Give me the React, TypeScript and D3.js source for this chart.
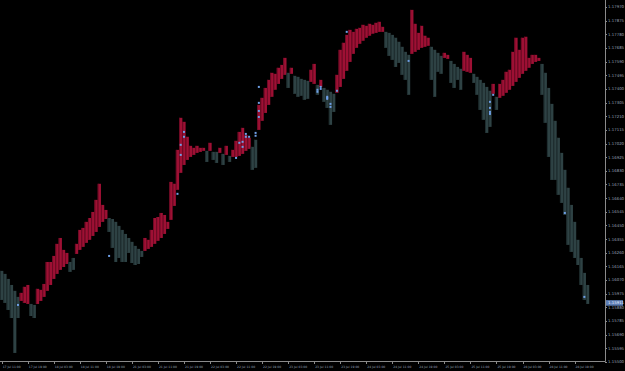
import React from "react";
import * as d3 from "d3";

// Smoothed average (base of each histogram bar), one value per hourly bar
const maValues = [
  1.16134, 1.16113, 1.16078, 1.16036, 1.15995, 1.15953, 1.15925, 1.15911, 1.15904, 1.15904,
  1.15897, 1.15904, 1.15925, 1.15953, 1.15995, 1.16036, 1.16078, 1.16113, 1.16141, 1.16161,
  1.16182, 1.16196, 1.16224, 1.16252, 1.16280, 1.16301, 1.16329, 1.16350, 1.16377, 1.16405,
  1.16440, 1.16475, 1.16495, 1.16502, 1.16495, 1.16475, 1.16447, 1.16419, 1.16391, 1.16363,
  1.16336, 1.16308, 1.16287, 1.16273, 1.16273, 1.16287, 1.16301, 1.16322, 1.16343, 1.16363,
  1.16391, 1.16426, 1.16489, 1.16586, 1.16698, 1.16816, 1.16871, 1.16906, 1.16927, 1.16941,
  1.16955, 1.16962, 1.16969, 1.16969, 1.16969, 1.16962, 1.16962, 1.16955, 1.16948, 1.16941,
  1.16934, 1.16927, 1.16927, 1.16934, 1.16948, 1.16969, 1.16983, 1.16997, 1.17046, 1.17115,
  1.17178, 1.17233, 1.17289, 1.17345, 1.17394, 1.17435, 1.17470, 1.17498, 1.17512, 1.17505,
  1.17491, 1.17484, 1.17470, 1.17463, 1.17456, 1.17449, 1.17435, 1.17428, 1.17414, 1.17407,
  1.17394, 1.17380, 1.17366, 1.17373, 1.17414, 1.17470, 1.17526, 1.17588, 1.17644, 1.17686,
  1.17714, 1.17735, 1.17756, 1.17770, 1.17784, 1.17790, 1.17797, 1.17797, 1.17797, 1.17790,
  1.17776, 1.17756, 1.17728, 1.17693, 1.17658, 1.17637, 1.17644, 1.17658, 1.17672, 1.17686,
  1.17693, 1.17700, 1.17693, 1.17672, 1.17651, 1.17630, 1.17616, 1.17609, 1.17595, 1.17574,
  1.17553, 1.17540, 1.17526, 1.17519, 1.17512, 1.17505, 1.17484, 1.17463, 1.17442, 1.17414,
  1.17387, 1.17366, 1.17345, 1.17338, 1.17352, 1.17373, 1.17394, 1.17421, 1.17449, 1.17477,
  1.17505, 1.17526, 1.17547, 1.17574, 1.17588, 1.17595, 1.17574, 1.17512, 1.17407, 1.17296,
  1.17178, 1.17060, 1.16955, 1.16837, 1.16712, 1.16593, 1.16475, 1.16350, 1.16224, 1.16120,
  1.16036,
];

// Price extreme reached by each bar (top of red bars / bottom of grey bars)
const tipValues = [
  1.15932, 1.15911, 1.15862, 1.15806, 1.15563, 1.15806, 1.15981, 1.16023, 1.16036, 1.15820,
  1.15806, 1.16009, 1.16002, 1.16043, 1.16196, 1.16196, 1.16238, 1.16322, 1.16363, 1.16280,
  1.16259, 1.16127, 1.16141, 1.16322, 1.16419, 1.16433, 1.16475, 1.16502, 1.16544, 1.16628,
  1.16740, 1.16593, 1.16558, 1.16405, 1.16294, 1.16196, 1.16224, 1.16196, 1.16196, 1.16259,
  1.16189, 1.16175, 1.16182, 1.16231, 1.16363, 1.16350, 1.16419, 1.16502, 1.16509, 1.16537,
  1.16523, 1.16475, 1.16753, 1.16740, 1.16976, 1.17199, 1.17171, 1.17067, 1.17004, 1.16990,
  1.17004, 1.16990, 1.16990, 1.16892, 1.17025, 1.16906, 1.16885, 1.16990, 1.16871, 1.17004,
  1.16892, 1.16976, 1.17039, 1.17101, 1.17129, 1.17080, 1.17060, 1.16837, 1.16851, 1.17289,
  1.17338, 1.17407, 1.17463, 1.17512, 1.17505, 1.17547, 1.17567, 1.17616, 1.17407, 1.17547,
  1.17366, 1.17345, 1.17352, 1.17324, 1.17331, 1.17533, 1.17574, 1.17359, 1.17463, 1.17310,
  1.17268, 1.17150, 1.17240, 1.17498, 1.17672, 1.17721, 1.17776, 1.17811, 1.17797, 1.17818,
  1.17825, 1.17846, 1.17839, 1.17853, 1.17846, 1.17860, 1.17867, 1.17832, 1.17686, 1.17630,
  1.17602, 1.17553, 1.17581, 1.17498, 1.17463, 1.17359, 1.17950, 1.17853, 1.17790, 1.17839,
  1.17770, 1.17756, 1.17463, 1.17345, 1.17519, 1.17505, 1.17651, 1.17637, 1.17442, 1.17407,
  1.17463, 1.17394, 1.17658, 1.17637, 1.17616, 1.17442, 1.17359, 1.17254, 1.17185, 1.17094,
  1.17136, 1.17435, 1.17254, 1.17435, 1.17463, 1.17519, 1.17533, 1.17658, 1.17756, 1.17672,
  1.17756, 1.17763, 1.17616, 1.17637, 1.17637, 1.17616, 1.17359, 1.17164, 1.16927, 1.16767,
  1.16767, 1.16663, 1.16607, 1.16523, 1.16315, 1.16266, 1.16224, 1.16175, 1.16036, 1.15932,
  1.15904,
];

// Signal markers (bar index, price)
const markerBars = [5, 33, 54, 55, 55, 56, 56, 72, 73, 74, 74, 75, 75, 76, 78, 78, 79, 79, 79, 79,
  106, 97, 97, 98, 98, 100, 100, 100, 101, 101, 103, 125, 151, 150, 150, 150, 150, 173, 179];
const markerPrices = [1.15897, 1.16238, 1.16670, 1.17011, 1.16941, 1.17101, 1.17067, 1.16920, 1.17025,
  1.17032, 1.16997, 1.17087, 1.17067, 1.17067, 1.17074, 1.17094, 1.17205, 1.17247, 1.17303, 1.17414,
  1.17797, 1.17394, 1.17380, 1.17414, 1.17400, 1.17331, 1.17345, 1.17338, 1.17296, 1.17275, 1.17387,
  1.17595, 1.17359, 1.17310, 1.17268, 1.17240, 1.17226, 1.16537, 1.15953];

const timeLabels = [
  "17 Jul 11:00", "17 Jul 19:00", "18 Jul 03:00", "18 Jul 11:00", "18 Jul 19:00", "21 Jul 03:00",
  "21 Jul 11:00", "21 Jul 19:00", "22 Jul 03:00", "22 Jul 11:00", "22 Jul 19:00", "23 Jul 03:00",
  "23 Jul 11:00", "23 Jul 19:00", "24 Jul 03:00", "24 Jul 11:00", "24 Jul 19:00", "25 Jul 03:00",
  "25 Jul 11:00", "25 Jul 19:00", "28 Jul 03:00", "28 Jul 11:00", "28 Jul 19:00",
];
const barsPerLabel = 8;

const priceTickBase = 1.155;
const priceTickStep = 0.00095;
const priceTickCount = 27;
const currentPrice = 1.15911;

export default function App() {
  const W = 625;
  const H = 371;
  const axisX = 605;
  const axisY = 361;
  const n = maValues.length;
  const x = d3.scaleLinear().domain([0, n - 1]).range([1.7, 587.6]);
  const y = d3
    .scaleLinear()
    .domain([priceTickBase, priceTickBase + priceTickStep * (priceTickCount - 1)])
    .range([362, 7]);
  const priceTicks = d3.range(priceTickCount).map((k) => priceTickBase + k * priceTickStep);
  const step = x(1) - x(0);
  const red = "#9e1034";
  const redDark = "#6a0a23";
  const grey = "#2e4244";
  const greyDark = "#1d2b2d";
  const labelColor = "#9aa4b8";
  const axisColor = "#8a8a8a";

  return (
    <div style={{ position: "fixed", left: 0, top: 0, width: W, height: H, background: "#000" }}>
      <svg width={W} height={H} style={{ display: "block", fontFamily: "'DejaVu Sans', sans-serif" }}>
        <rect x={0} y={0} width={W} height={H} fill="#000" />
        <g>
          {maValues.map((m, i) => {
            const t = tipValues[i];
            const y0 = y(Math.max(m, t));
            const y1 = y(Math.min(m, t));
            const up = t >= m;
            const h = Math.max(0.5, y1 - y0);
            return (
              <g key={i}>
                <rect x={x(i) - step / 2} y={y0} width={step} height={h} fill={up ? red : grey} />
                <rect x={x(i) - step / 2} y={y0} width={0.9} height={h} fill={up ? redDark : greyDark} />
              </g>
            );
          })}
        </g>
        <g>
          {markerBars.map((b, i) => (
            <rect key={i} x={x(b) - 1} y={y(markerPrices[i]) - 1} width={2} height={2} fill="#6e9fe6" />
          ))}
        </g>
        {/* axes */}
        <line x1={axisX + 0.5} y1={0} x2={axisX + 0.5} y2={axisY + 0.5} stroke={axisColor} strokeWidth={1} />
        <line x1={0} y1={axisY + 0.5} x2={axisX + 0.5} y2={axisY + 0.5} stroke={axisColor} strokeWidth={1} />
        {priceTicks.map((v, k) => (
          <g key={k}>
            <line x1={axisX} x2={axisX + 2} y1={Math.round(y(v)) + 0.5} y2={Math.round(y(v)) + 0.5} stroke={axisColor} />
            <text x={608} y={y(v) + 1.4} fontSize={3.9} fill={labelColor}>
              {v.toFixed(5)}
            </text>
          </g>
        ))}
        <rect x={606} y={y(currentPrice) - 2.8} width={17} height={5.6} fill="#5c7db4" />
        <text x={608} y={y(currentPrice) + 1.4} fontSize={3.9} fill="#f0f4ff">
          {currentPrice.toFixed(5)}
        </text>
        {timeLabels.map((lab, k) => {
          const xi = x(k * barsPerLabel);
          return (
            <g key={k}>
              <line x1={Math.round(xi) + 0.5} x2={Math.round(xi) + 0.5} y1={axisY} y2={axisY + 3} stroke={axisColor} />
              <text x={xi + 1} y={368} fontSize={3} fill={labelColor}>
                {lab}
              </text>
            </g>
          );
        })}
      </svg>
    </div>
  );
}
